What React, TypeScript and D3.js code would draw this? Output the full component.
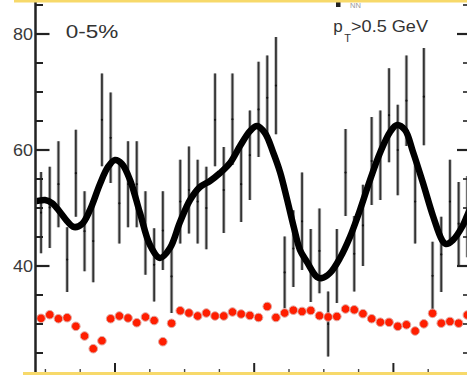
import React from "react";
import * as d3 from "d3";

const W = 467;
const H = 375;

// Azimuthal bins: width 0.125 rad, first visible bin centred at 0.9375
const binStart = 0.9375;
const binWidth = 0.125;

// Measured yield per bin (black points) and statistical errors
const yieldValues = [
  49.2, 50.1, 54.1, 41.1, 56.0, 46.0, 44.3, 65.2, 62.1, 50.8,
  54.1, 54.1, 45.7, 40.2, 46.1, 38.2, 51.1, 53.1, 51.1, 50.0,
  65.2, 53.1, 65.3, 54.1, 59.1, 67.0, 69.0, 71.1, 38.9, 43.0,
  47.7, 40.1, 42.6, 30.0, 40.0, 56.1, 42.1, 47.0, 58.1, 59.1,
  66.0, 60.0, 68.5, 51.1, 69.2, 38.3, 42.0, 51.1, 47.3, 48.5,
];
const yieldErrors = [
  7.0, 7.0, 7.4, 5.6, 7.5, 6.9, 7.1, 8.0, 7.8, 6.9,
  7.4, 7.4, 7.2, 6.3, 6.8, 6.3, 7.2, 7.5, 7.2, 7.1,
  8.0, 7.4, 7.9, 6.5, 7.7, 8.2, 7.3, 8.4, 6.2, 6.6,
  8.4, 6.3, 7.3, 5.6, 6.4, 7.5, 6.5, 7.0, 7.6, 7.7,
  8.1, 7.8, 7.8, 7.2, 8.4, 5.9, 6.5, 7.2, 7.2, 7.0,
];

// Reference distribution (red markers)
const refValues = [
  30.98, 31.6, 30.91, 31.09, 29.6, 27.93, 25.74, 27.12, 30.91, 31.38,
  31.03, 30.22, 31.21, 30.6, 26.95, 30.12, 32.29, 31.9, 31.38, 31.9,
  31.38, 31.38, 32.07, 31.72, 31.47, 31.12, 33.02, 31.12, 31.9, 32.38,
  32.16, 32.33, 31.43, 31.21, 31.29, 32.59, 32.45, 31.78, 30.91, 30.31,
  30.29, 29.6, 29.86, 28.79, 30.03, 31.84, 30.14, 30.43, 30.14, 31.55,
];

// Fit curve sampled along phi
const fitPhi = [
  0.85, 0.879, 0.994, 1.095, 1.21, 1.31, 1.411, 1.526, 1.641, 1.784,
  1.899, 2.0, 2.101, 2.216, 2.359, 2.503, 2.647, 2.79, 2.934, 3.078,
  3.221, 3.365, 3.509, 3.652, 3.796, 3.94, 4.04, 4.155, 4.27, 4.371,
  4.471, 4.572, 4.658, 4.759, 4.902, 4.974, 5.089, 5.233, 5.376, 5.52,
  5.664, 5.807, 5.951, 6.052, 6.167, 6.282, 6.425, 6.569, 6.698, 6.756,
  6.856, 6.986, 7.057, 7.1,
];
const fitValues = [
  51.2, 51.21, 51.38, 50.86, 49.31, 47.76, 46.72, 47.24, 49.66, 54.14,
  57.07, 58.28, 57.59, 54.83, 49.14, 43.62, 41.38, 43.1, 47.59, 51.38,
  53.62, 54.66, 56.03, 57.76, 60.69, 63.28, 64.14, 62.93, 59.66, 56.21,
  51.55, 46.55, 42.76, 40.69, 38.1, 37.93, 38.79, 41.38, 45.0, 49.66,
  54.83, 59.48, 63.1, 64.31, 63.45, 59.66, 54.31, 48.62, 44.48, 43.79,
  44.48, 46.72, 48.62, 49.8,
];

const yTickMajor = [40, 60, 80];
const yTickMinor = [25, 30, 35, 45, 50, 55, 65, 70, 75, 85];
const xTickMajor = [2, 4, 6];
const xTickMinor = [1, 1.5, 2.5, 3, 3.5, 4.5, 5, 5.5, 6.5];

const FONT = "'Liberation Sans', Arial, Helvetica, sans-serif";

export default function App() {
  const x = d3.scaleLinear().domain([0, 7]).range([-24.2, 463.0]);
  const y = d3.scaleLinear().domain([40, 80]).range([266, 34]);

  const axisX = 35.5;
  const plotRight = 467;
  const plotBottom = 374;
  const rightAxisX = 469;

  const bins = yieldValues.map((v, i) => ({
    phi: binStart + i * binWidth,
    v,
    e: yieldErrors[i],
    r: refValues[i],
  }));

  const fitLine = d3
    .line<number>()
    .x((_, i) => x(fitPhi[i]))
    .y((d) => y(d))
    .curve(d3.curveCatmullRom.alpha(0.5));

  const fitPath = fitLine(fitValues) || "";

  return (
    <svg
      width={W}
      height={H}
      style={{ position: "absolute", left: 0, top: 0, background: "#fff" }}
    >
      <defs>
        <clipPath id="plot-area">
          <rect x={axisX + 1} y={0} width={plotRight - axisX} height={plotBottom} />
        </clipPath>
      </defs>

      {/* error bars */}
      <g clipPath="url(#plot-area)">
        {bins.map((b, i) => (
          <g key={"eb" + i}>
            <line
              x1={x(b.phi)}
              x2={x(b.phi)}
              y1={y(b.v + b.e)}
              y2={y(b.v - b.e)}
              stroke="#b8b8b8"
              strokeWidth={3.4}
            />
            <line
              x1={x(b.phi)}
              x2={x(b.phi)}
              y1={y(b.v + b.e)}
              y2={y(b.v - b.e)}
              stroke="#333"
              strokeWidth={1.8}
            />
            <circle cx={x(b.phi)} cy={y(b.v)} r={1.1} fill="#111" />
          </g>
        ))}

        {/* fit curve */}
        <path d={fitPath} fill="none" stroke="#000" strokeWidth={6.5} strokeLinejoin="round" />

        {/* reference markers */}
        {bins.map((b, i) => (
          <circle
            key={"rd" + i}
            cx={x(b.phi)}
            cy={y(b.r)}
            r={4.3}
            fill="#ff1e00"
            stroke="#e2a9a3"
            strokeWidth={1}
          />
        ))}
      </g>

      {/* left axis */}
      <line x1={axisX} x2={axisX} y1={0} y2={plotBottom} stroke="#222" strokeWidth={2.5} />
      {yTickMajor.map((t) => (
        <g key={"ym" + t}>
          <line x1={axisX} x2={axisX + 14} y1={y(t)} y2={y(t)} stroke="#222" strokeWidth={2.2} />
          <text
            x={33}
            y={y(t) + 6}
            textAnchor="end"
            fontFamily={FONT}
            fontSize={16}
            fill="#3a3a3a"
            textLength={20}
            lengthAdjust="spacingAndGlyphs"
          >
            {t}
          </text>
        </g>
      ))}
      {yTickMinor.map((t) => (
        <line key={"yn" + t} x1={axisX} x2={axisX + 7.5} y1={y(t)} y2={y(t)} stroke="#222" strokeWidth={2} />
      ))}

      {/* right mirror axis ticks */}
      {yTickMajor.map((t) => (
        <line key={"rm" + t} x1={rightAxisX} x2={rightAxisX - 12} y1={y(t)} y2={y(t)} stroke="#222" strokeWidth={2.2} />
      ))}
      {yTickMinor.map((t) => (
        <line key={"rn" + t} x1={rightAxisX} x2={rightAxisX - 6} y1={y(t)} y2={y(t)} stroke="#222" strokeWidth={1.6} />
      ))}

      {/* bottom axis ticks */}
      {xTickMajor.map((t) => (
        <line key={"xm" + t} x1={x(t)} x2={x(t)} y1={plotBottom} y2={plotBottom - 11} stroke="#222" strokeWidth={2} />
      ))}
      {xTickMinor.map((t) => (
        <line key={"xn" + t} x1={x(t)} x2={x(t)} y1={plotBottom} y2={plotBottom - 5} stroke="#444" strokeWidth={1.4} />
      ))}

      {/* labels */}
      <text
        x={65.7}
        y={37.5}
        fontFamily={FONT}
        fontSize={18.5}
        fill="#333"
        textLength={52.6}
        lengthAdjust="spacingAndGlyphs"
      >
        0-5%
      </text>
      <text x={333.3} y={32.3} fontFamily={FONT} fontSize={17} fill="#333">
        p
        <tspan dx={1.5} dy={9.2} fontSize={11}>
          T
        </tspan>
        <tspan dy={-9.2} fontSize={17} textLength={77} lengthAdjust="spacingAndGlyphs">
          {">0.5 GeV"}
        </tspan>
      </text>

      {/* stray legend entry */}
      <rect x={336} y={2} width={4.5} height={5} fill="#222" />
      <text x={350} y={8} fontFamily={FONT} fontSize={7.5} fill="#999">
        NN
      </text>

      {/* frame bands */}
      <line x1={14} x2={W} y1={1.2} y2={1.2} stroke="#f7d96a" strokeWidth={2.8} />
      <line x1={23} x2={W} y1={373.6} y2={373.6} stroke="#f7d96a" strokeWidth={3} />
    </svg>
  );
}
